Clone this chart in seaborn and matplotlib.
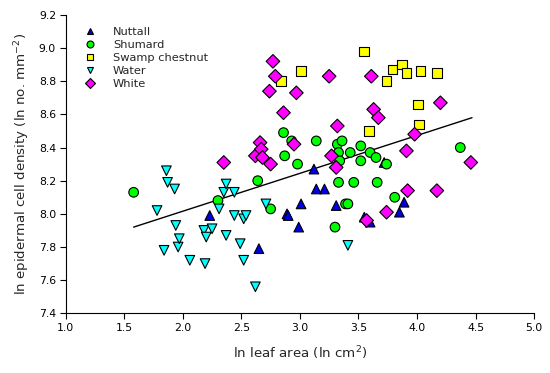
import numpy as np
import pandas as pd
import seaborn as sns
import matplotlib
matplotlib.use('Agg')
import matplotlib.pyplot as plt

sns.set_style('ticks')
plt.rcParams['font.family'] = ['DejaVu Sans']

# points (ln leaf area, ln cell density)
nuttall_x = [2.23, 2.65, 2.89, 2.90, 2.99, 3.01, 3.12, 3.14, 3.21, 3.31, 3.55, 3.60, 3.72, 3.85, 3.89]
nuttall_y = [7.99, 7.79, 8.00, 7.99, 7.92, 8.06, 8.27, 8.15, 8.15, 8.05, 7.98, 7.95, 8.31, 8.01, 8.07]

shumard_x = [1.58, 2.30, 2.64, 2.75, 2.86, 2.87, 2.93, 2.98, 3.14, 3.30, 3.32, 3.33, 3.33, 3.34,
             3.36, 3.39, 3.41, 3.43, 3.46, 3.52, 3.52, 3.60, 3.65, 3.66, 3.74, 3.81, 4.37]
shumard_y = [8.13, 8.08, 8.20, 8.03, 8.49, 8.35, 8.44, 8.30, 8.44, 7.92, 8.42, 8.37, 8.19, 8.32,
             8.44, 8.06, 8.06, 8.37, 8.19, 8.41, 8.32, 8.37, 8.34, 8.19, 8.30, 8.10, 8.40]

swamp_x = [2.84, 3.01, 3.55, 3.59, 3.74, 3.79, 3.87, 3.91, 4.01, 4.02, 4.03, 4.17]
swamp_y = [8.80, 8.86, 8.98, 8.50, 8.80, 8.87, 8.90, 8.85, 8.66, 8.54, 8.86, 8.85]

water_x = [1.78, 1.84, 1.86, 1.87, 1.93, 1.94, 1.96, 1.97, 2.06, 2.18, 2.19, 2.20, 2.25,
           2.31, 2.35, 2.37, 2.37, 2.44, 2.44, 2.49, 2.52, 2.54, 2.52, 2.62, 2.71, 3.41]
water_y = [8.02, 7.78, 8.26, 8.19, 8.15, 7.93, 7.80, 7.85, 7.72, 7.90, 7.70, 7.86, 7.91,
           8.03, 8.13, 8.18, 7.87, 8.13, 7.99, 7.82, 7.97, 7.99, 7.72, 7.56, 8.06, 7.81]

white_x = [2.35, 2.62, 2.66, 2.67, 2.68, 2.74, 2.75, 2.77, 2.79, 2.86, 2.95, 2.97, 3.25, 3.27,
           3.31, 3.32, 3.57, 3.61, 3.63, 3.67, 3.74, 3.91, 3.92, 3.98, 4.17, 4.20, 4.46]
white_y = [8.31, 8.35, 8.43, 8.39, 8.34, 8.74, 8.30, 8.92, 8.83, 8.61, 8.42, 8.73, 8.83, 8.35,
           8.28, 8.53, 7.96, 8.83, 8.63, 8.58, 8.01, 8.38, 8.14, 8.48, 8.14, 8.67, 8.31]

# fitted line end points
fit_x = [1.58, 4.47]
fit_y = [7.92, 8.58]

species = ['Nuttall', 'Shumard', 'Swamp chestnut', 'Water', 'White']
colors = {'Nuttall': '#0000e6', 'Shumard': '#00ff00', 'Swamp chestnut': '#ffff00',
          'Water': '#00ffff', 'White': '#ff00ff'}
markers = {'Nuttall': '^', 'Shumard': 'o', 'Swamp chestnut': 's', 'Water': 'v', 'White': 'D'}

xs = [nuttall_x, shumard_x, swamp_x, water_x, white_x]
ys = [nuttall_y, shumard_y, swamp_y, water_y, white_y]
df = pd.concat([pd.DataFrame({'area': x, 'density': y, 'Species': s})
                for s, x, y in zip(species, xs, ys)], ignore_index=True)

fig, ax = plt.subplots(figsize=(5.5, 3.73), dpi=100)
fig.subplots_adjust(left=0.1195, right=0.971, bottom=0.160, top=0.960)

ax.plot(fit_x, fit_y, color='black', lw=1.0, zorder=1)
sns.scatterplot(data=df, x='area', y='density', hue='Species', style='Species',
                hue_order=species, style_order=species, palette=colors, markers=markers,
                s=48, edgecolor='black', linewidth=0.8, ax=ax, zorder=2)

ax.set_xlim(1.0, 5.0)
ax.set_ylim(7.4, 9.2)
ax.set_xticks(np.arange(1.0, 5.01, 0.5))
ax.set_yticks(np.arange(7.4, 9.21, 0.2))
ax.set_xticklabels([f'{v:.1f}' for v in np.arange(1.0, 5.01, 0.5)])
ax.set_yticklabels([f'{v:.1f}' for v in np.arange(7.4, 9.21, 0.2)])
ax.tick_params(direction='out', length=4, width=0.8, labelsize=7.8, colors='black', pad=3)
for sp in ['left', 'bottom']:
    ax.spines[sp].set_linewidth(0.8)
    ax.spines[sp].set_color('black')
sns.despine(ax=ax)

ax.set_xlabel('ln leaf area (ln cm$^2$)', fontsize=9.6, labelpad=8)
ax.set_ylabel('ln epidermal cell density (ln no. mm$^{-2}$)', fontsize=9.6, labelpad=5)

leg = ax.legend(loc='upper left', bbox_to_anchor=(0.0275, 0.961), frameon=False, fontsize=8.2,
                handletextpad=1.0, labelspacing=0.28, borderaxespad=0.0, borderpad=0.0,
                title=None)
for h in leg.legend_handles:
    h.set_markeredgecolor('black')
    h.set_markeredgewidth(0.8)
    h.set_markersize(5.0)

fig.savefig('out.png', dpi=100)
